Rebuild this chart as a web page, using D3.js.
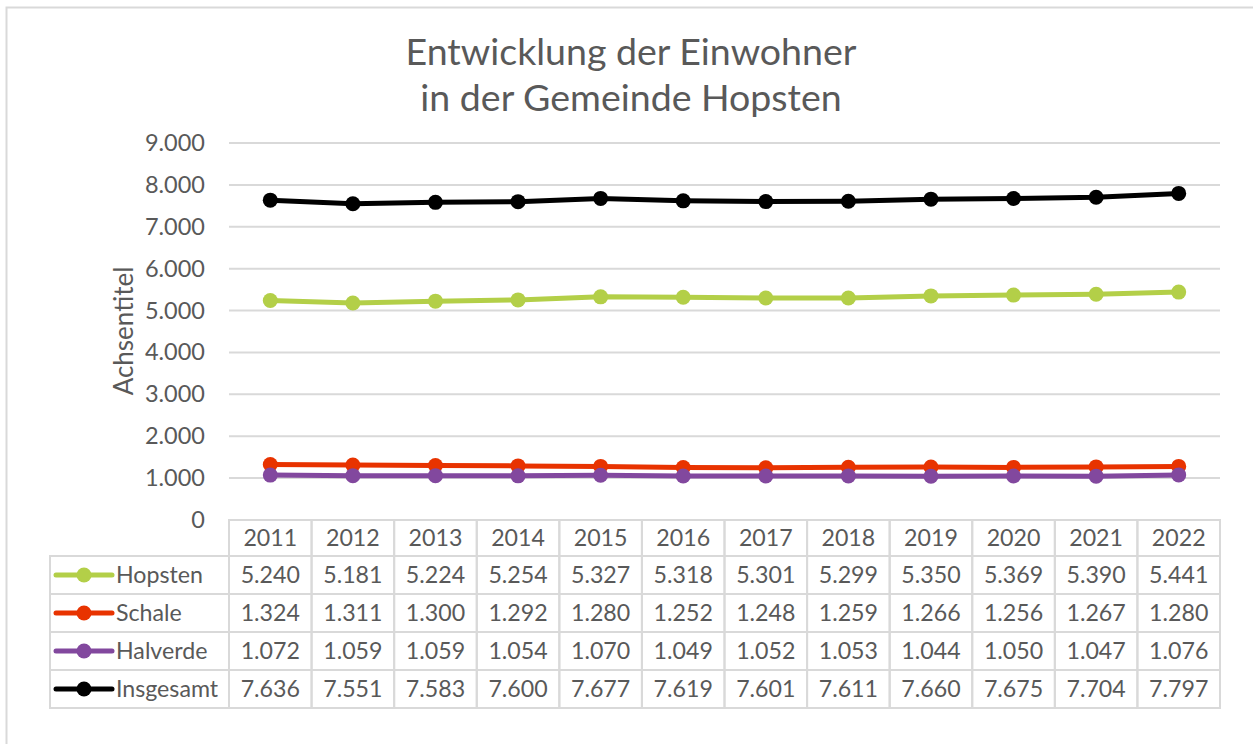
<!DOCTYPE html>
<html><head><meta charset="utf-8">
<script src="https://cdn.jsdelivr.net/npm/d3@7"></script>
<style>html,body{margin:0;padding:0;background:#fff;}svg{display:block;font-family:Lato,"Open Sans",sans-serif;}</style>
</head><body>
<script>
const years = ["2011","2012","2013","2014","2015","2016","2017","2018","2019","2020","2021","2022"];
const hopsten   = [5240,5181,5224,5254,5327,5318,5301,5299,5350,5369,5390,5441];
const schale    = [1324,1311,1300,1292,1280,1252,1248,1259,1266,1256,1267,1280];
const halverde  = [1072,1059,1059,1054,1070,1049,1052,1053,1044,1050,1047,1076];
const insgesamt = [7636,7551,7583,7600,7677,7619,7601,7611,7660,7675,7704,7797];
const seriesNames = ["Hopsten","Schale","Halverde","Insgesamt"];
const seriesColors = ["#B3CF48","#E83300","#82489E","#000000"];
const yTicks = [0,1000,2000,3000,4000,5000,6000,7000,8000,9000];
const titleLines = ["Entwicklung der Einwohner","in der Gemeinde Hopsten"];
const yTitle = "Achsentitel";

const series = [hopsten, schale, halverde, insgesamt];
const W=1253,H=744;
const svg=d3.select("body").append("svg").attr("width",W).attr("height",H);
const txt="#595959", grid="#D9D9D9";

svg.append("rect").attr("x",6.5).attr("y",7.5).attr("width",W+10).attr("height",H+10)
  .attr("fill","#fff").attr("stroke",grid).attr("stroke-width",2);

const x=d3.scaleBand().domain(years).range([229,1220]);
const y=d3.scaleLinear().domain([0,9000]).range([520,143]);
const fmt=v=>d3.format(",")(v).replace(/,/g,".");

// title
svg.append("text").attr("x",631).attr("text-anchor","middle").attr("fill",txt)
  .attr("font-size",37.5)
  .selectAll("tspan").data(titleLines).join("tspan")
  .attr("x",631).attr("y",(d,i)=>65+i*46).text(d=>d);

// gridlines
svg.append("g").selectAll("line").data(yTicks.filter(t=>t>0)).join("line")
  .attr("x1",229).attr("x2",1220).attr("y1",d=>y(d)).attr("y2",d=>y(d))
  .attr("stroke",grid).attr("stroke-width",2);

// y axis labels
const yAxis=d3.axisLeft(y).tickValues(yTicks).tickFormat(fmt).tickSize(0).tickPadding(0);
const ga=svg.append("g").attr("transform","translate(205,0)").call(yAxis);
ga.select(".domain").remove();
ga.selectAll("text").attr("font-size",23.5).attr("fill",txt).attr("font-family","Lato");

// y title
svg.append("text").attr("transform","translate(133,331) rotate(-90)")
  .attr("text-anchor","middle").attr("font-size",26).attr("fill",txt).text(yTitle);

// lines
const cx=d=>x(d)+x.bandwidth()/2;
series.forEach((s,i)=>{
  const line=d3.line().x((d,j)=>cx(years[j])).y(d=>y(d));
  svg.append("path").attr("d",line(s)).attr("fill","none")
    .attr("stroke",seriesColors[i]).attr("stroke-width",5).attr("stroke-linejoin","round");
  svg.append("g").selectAll("circle").data(s).join("circle")
    .attr("cx",(d,j)=>cx(years[j])).attr("cy",d=>y(d)).attr("r",7.5).attr("fill",seriesColors[i]);
});

// data table
const fs=23.2;
const rowTop=[520,556,594,632,670,708];
const tg=svg.append("g");
years.forEach(yr=>{
  tg.append("rect").attr("x",x(yr)).attr("y",rowTop[0]).attr("width",x.bandwidth()).attr("height",rowTop[1]-rowTop[0])
    .attr("fill","none").attr("stroke",grid).attr("stroke-width",2);
  tg.append("text").attr("x",cx(yr)).attr("y",(rowTop[0]+rowTop[1])/2).attr("dy","0.36em")
    .attr("text-anchor","middle").attr("font-size",fs).attr("fill",txt).text(yr);
});
series.forEach((s,i)=>{
  const t=rowTop[i+1], b=rowTop[i+2], m=(t+b)/2;
  tg.append("rect").attr("x",50).attr("y",t).attr("width",229-50).attr("height",b-t)
    .attr("fill","none").attr("stroke",grid).attr("stroke-width",2);
  years.forEach((yr,j)=>{
    tg.append("rect").attr("x",x(yr)).attr("y",t).attr("width",x.bandwidth()).attr("height",b-t)
      .attr("fill","none").attr("stroke",grid).attr("stroke-width",2);
    tg.append("text").attr("x",cx(yr)).attr("y",m).attr("dy","0.36em")
      .attr("text-anchor","middle").attr("font-size",fs).attr("fill",txt).text(fmt(s[j]));
  });
  tg.append("line").attr("x1",56).attr("x2",112).attr("y1",m).attr("y2",m)
    .attr("stroke",seriesColors[i]).attr("stroke-width",5).attr("stroke-linecap","round");
  tg.append("circle").attr("cx",84).attr("cy",m).attr("r",7.5).attr("fill",seriesColors[i]);
  tg.append("text").attr("x",116).attr("y",m).attr("dy","0.36em")
    .attr("font-size",fs).attr("fill",txt).text(seriesNames[i]);
});
</script>
</body></html>
